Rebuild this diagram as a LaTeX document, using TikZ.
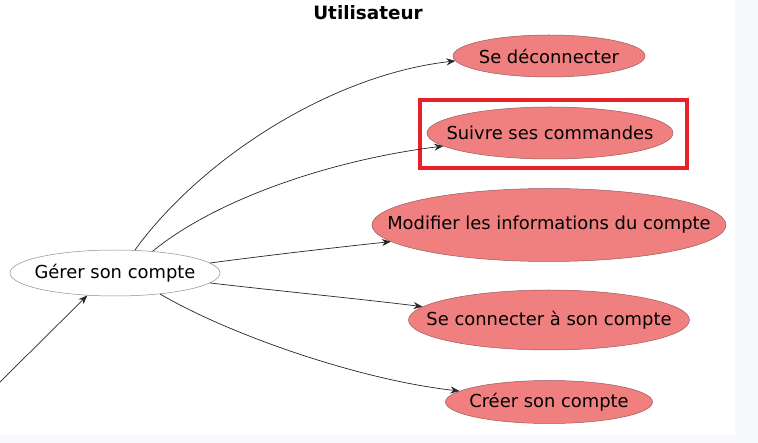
\documentclass[tikz,border=0pt]{standalone}
\usepackage{fontspec}
\setmainfont{DejaVu Sans}
\usetikzlibrary{arrows.meta, shapes.geometric}
\definecolor{ucFill}{HTML}{F08080}
\definecolor{ucLine}{HTML}{9A5A5A}
\definecolor{hlRed}{HTML}{E8202A}
\definecolor{bgStrip}{HTML}{F7F9FC}
\newcommand{\uctext}[1]{\makebox[0pt]{#1}}
\tikzset{
  usecase/.style={ellipse, draw=ucLine, fill=ucFill, line width=0.5pt, inner sep=0pt},
  basecase/.style={ellipse, draw=black!45, fill=white, line width=0.5pt, inner sep=0pt},
  edge/.style={-{Stealth[length=9pt,width=7pt,inset=3pt]}, line width=0.7pt, black!85},
}
\begin{document}
\begin{tikzpicture}[x=1pt, y=1pt, every node/.style={font=\fontsize{17.9}{21}\selectfont}]
  % background and margins
  \fill[white] (0,0) rectangle (758,-443);
  \fill[bgStrip] (735,0) rectangle (758,-443);
  \fill[bgStrip] (0,-435) rectangle (758,-443);
  \useasboundingbox (0,0) rectangle (758,-443);
  \node[font=\fontsize{18.4}{21}\selectfont\bfseries] (titre) at (368,-13) {Utilisateur};
  % use cases
  \node[basecase, minimum width=210pt, minimum height=46pt] (gerer) at (115,-273) {\uctext{Gérer son compte}};
  \node[usecase, minimum width=192pt, minimum height=42pt] (deco) at (549,-56) {\uctext{Se déconnecter}};
  \node[usecase, minimum width=246pt, minimum height=52pt] (suivre) at (550,-133) {\uctext{Suivre ses commandes}};
  \node[usecase, minimum width=354pt, minimum height=73pt] (modif) at (549,-225) {\uctext{Modifier les informations du compte}};
  \node[usecase, minimum width=281pt, minimum height=60pt] (conn) at (549,-320) {\uctext{Se connecter à son compte}};
  \node[usecase, minimum width=207pt, minimum height=43pt] (creer) at (549,-402) {\uctext{Créer son compte}};
  % highlight
  \draw[hlRed, line width=4pt] (420,-100) rectangle (687,-168);
  % links
  \coordinate (acteur) at (-2,-384);
  \draw[edge] (acteur) -- (gerer.219);
  \draw[edge] (gerer.49) .. controls (200,-160) and (330,-75) .. (deco.183.6);
  \draw[edge] (gerer.30) .. controls (215,-200) and (330,-160) .. (suivre.187.6);
  \draw[edge] (gerer.6.6) .. controls (270,-255) and (340,-247) .. (modif.186.2);
  \draw[edge] (gerer.-6) .. controls (270,-290) and (370,-300) .. (conn.174);
  \draw[edge] (gerer.-25.5) .. controls (230,-335) and (360,-380) .. (creer.173);
\end{tikzpicture}
\end{document}
